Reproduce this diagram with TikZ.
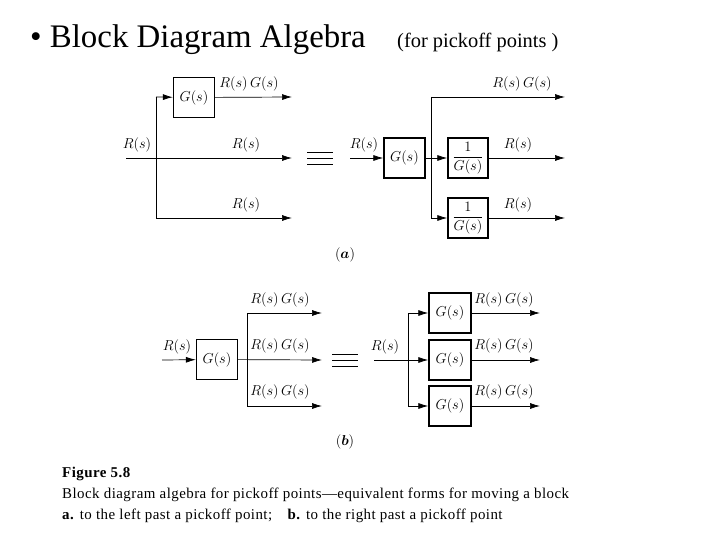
\documentclass[tikz,border=0pt]{standalone}
\usepackage{amsmath,bm}
\usepackage{fontspec}
\setmainfont{Liberation Serif}
\usepackage{tikz}
\usetikzlibrary{arrows.meta,positioning,calc}
\tikzset{
  block/.style={draw,line width=1.4pt,minimum width=41bp,minimum height=40bp,inner sep=0pt,font=\fontsize{13.5}{15}\selectfont},
  sig/.style={-{Latex[length=10pt,width=6pt]},line width=0.7pt},
  wire/.style={line width=0.7pt},
  lbl/.style={font=\fontsize{13.5}{15}\selectfont,inner sep=0pt}
}
\newcommand{\RG}{$R(s)\,G(s)$}
\newcommand{\eqsign}[1]{\foreach \d in {-6,0,6} \draw[line width=0.6pt] ($(#1)+(-13bp,\d bp)$) -- ($(#1)+(13bp,\d bp)$);}
\begin{document}
\begin{tikzpicture}[x=1bp,y=-1bp]
  \useasboundingbox (0,0) rectangle (720,540);
  % Title
  \node[anchor=base west,inner sep=0,font=\fontsize{33}{36}\selectfont] (Title) at (30,48) {\textbullet\ Block Diagram Algebra};
  \node[anchor=base west,inner sep=0,font=\fontsize{20.5}{24}\selectfont] (Sub) at (397,48) {(for pickoff points )};
  % (a) left
  \coordinate (ain) at (126,158);
  \coordinate (abr) at (156,158);
  \node[block] (aG) at (194,97.5) {$G(s)$};
  \coordinate (aout1) at (292,97);
  \coordinate (aout2) at (292,158);
  \coordinate (aout3) at (292,218);
  \draw[wire] (abr |- aout1) -- (abr |- aout3);
  \draw[sig] (abr |- aout1) -- (aG);
  \draw[sig] (aG) -- (aout1);
  \draw[sig] (ain) -- (aout2);
  \draw[sig] (abr |- aout3) -- (aout3);
  \node[lbl] at (137,145) {$R(s)$};
  \node[lbl] at (249,84) {\RG};
  \node[lbl] at (246,145) {$R(s)$};
  \node[lbl] at (246,205) {$R(s)$};
  \coordinate (aeq) at (320,158);
  \eqsign{aeq}
  % (a) right
  \coordinate (bin) at (350,158);
  \node[block] (bG) at (404.5,158) {$G(s)$};
  \coordinate (bbr) at (431,158);
  \node[block,minimum width=40bp] (bI1) at (468,158) {$\dfrac{1}{G(s)}$};
  \node[block,minimum width=40bp] (bI2) at (468,218) {$\dfrac{1}{G(s)}$};
  \coordinate (bout1) at (565,97);
  \coordinate (bout2) at (565,158);
  \coordinate (bout3) at (565,218);
  \draw[sig] (bin) -- (bG);
  \draw[wire] (bbr |- bout1) -- (bbr |- bout3);
  \draw[sig] (bG) -- (bI1);
  \draw[sig] (bbr |- bout1) -- (bout1);
  \draw[sig] (bbr |- bout3) -- (bI2);
  \draw[sig] (bI1) -- (bout2);
  \draw[sig] (bI2) -- (bout3);
  \node[lbl] at (364,145) {$R(s)$};
  \node[lbl] at (522,84) {\RG};
  \node[lbl] at (518,145) {$R(s)$};
  \node[lbl] at (518,205) {$R(s)$};
  \node[lbl] (capa) at (345,255) {$(\bm{a})$};
  % (b) left
  \coordinate (cin) at (162,360);
  \node[block] (cG) at (217,359.5) {$G(s)$};
  \coordinate (cbr) at (247,360);
  \coordinate (cout1) at (322,313);
  \coordinate (cout2) at (322,360);
  \coordinate (cout3) at (322,406);
  \draw[sig] (cin) -- (cG);
  \draw[wire] (cbr |- cout1) -- (cbr |- cout3);
  \draw[sig] (cG) -- (cout2);
  \draw[sig] (cbr |- cout1) -- (cout1);
  \draw[sig] (cbr |- cout3) -- (cout3);
  \node[lbl] at (177,347) {$R(s)$};
  \node[lbl] at (280,300) {\RG};
  \node[lbl] at (280,346) {\RG};
  \node[lbl] at (280,392) {\RG};
  \coordinate (ceq) at (345,360);
  \eqsign{ceq}
  % (b) right
  \coordinate (din) at (374,360);
  \coordinate (dbr) at (408,360);
  \node[block,minimum width=42bp] (dG1) at (450,313) {$G(s)$};
  \node[block,minimum width=42bp] (dG2) at (450,360) {$G(s)$};
  \node[block,minimum width=42bp] (dG3) at (450,406) {$G(s)$};
  \coordinate (dout1) at (540,313);
  \coordinate (dout2) at (540,360);
  \coordinate (dout3) at (540,406);
  \draw[wire] (dbr |- dG1) -- (dbr |- dG3);
  \draw[sig] (din) -- (dG2);
  \draw[sig] (dbr |- dG1) -- (dG1);
  \draw[sig] (dbr |- dG3) -- (dG3);
  \foreach \i in {1,2,3} \draw[sig] (dG\i) -- (dout\i);
  \node[lbl] at (385,347) {$R(s)$};
  \node[lbl] at (504,300) {\RG};
  \node[lbl] at (504,346) {\RG};
  \node[lbl] at (504,392) {\RG};
  \node[lbl] (capb) at (345,442) {$(\bm{b})$};
  % Caption
  \node[anchor=north west,inner sep=0,align=left,font=\fontsize{15}{21}\selectfont\addfontfeatures{LetterSpace=3}] (Cap) at (62,467)
    {\textbf{Figure 5.8}\\
     Block diagram algebra for pickoff points---equivalent forms for moving a block\\
     \textbf{a.} to the left past a pickoff point;\quad \textbf{b.} to the right past a pickoff point};
\end{tikzpicture}
\end{document}
